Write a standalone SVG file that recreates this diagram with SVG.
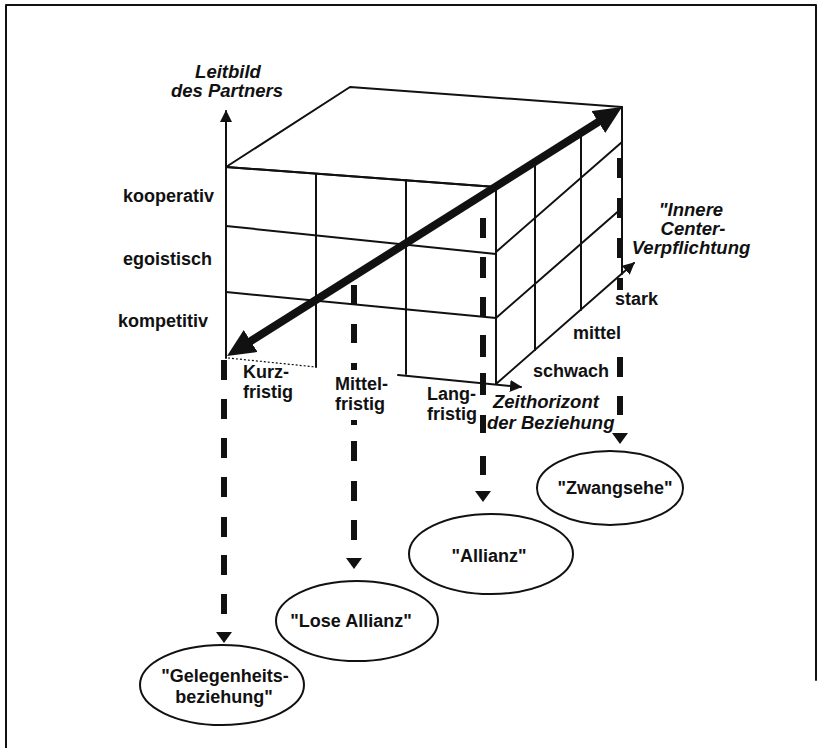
<svg xmlns="http://www.w3.org/2000/svg" width="822" height="748" viewBox="0 0 822 748">
<style>
.ln{fill:none;stroke:#111;stroke-width:2;stroke-linecap:round;stroke-linejoin:round}
.dot{fill:none;stroke:#111;stroke-width:1.2;stroke-dasharray:2 2}
.dash{fill:none;stroke:#111;stroke-width:6;stroke-linecap:butt}
.node ellipse{fill:#fff;stroke:#111;stroke-width:2}
text{font-family:"Liberation Sans",Arial,Helvetica,sans-serif;font-weight:bold;font-size:18px;fill:#111}
.it{font-style:italic;font-size:18.5px}
.mid{text-anchor:middle}
</style>
<defs>
<marker id="thin" viewBox="0 0 12 12" refX="11" refY="6" markerWidth="12" markerHeight="12" markerUnits="userSpaceOnUse" orient="auto"><path d="M0,0 L12,6 L0,12 Z" fill="#111"/></marker>
<marker id="big" viewBox="0 0 28 26" refX="2" refY="13" markerWidth="28" markerHeight="26" markerUnits="userSpaceOnUse" orient="auto-start-reverse"><path d="M0,0 L28,13 L0,26 Z" fill="#111"/></marker>
<path id="ah" d="M-8,0 L8,0 L0,11 Z" fill="#111"/>
</defs>
<rect width="822" height="748" fill="#fff"/>
<path class="ln" d="M6 748 V5 H816 V680"/>

<g id="cube">
<path class="ln" d="M226 167 L350 87 L622 107 L496 187 Z"/>
<path class="ln" d="M226 167 L496 187 M226 226 L496 254 M226 292 L496 318"/>
<path class="ln" d="M316 174 V367 M406 180 V374 M496 187 V384"/>
<path class="ln" d="M496 252 L622 142 M496 318 L622 208"/>
<path class="ln" d="M535 162 V350 M581 134 V310 M622 107 V274"/>
<path class="dot" d="M228 358 L316 367"/>
</g>

<g id="axes">
<path class="ln" d="M226 358 V111" marker-end="url(#thin)"/>
<path class="ln" d="M398 375 L521 387" marker-end="url(#thin)"/>
<path class="ln" d="M496 384 L634 263" marker-end="url(#thin)"/>
<text class="it mid" x="228" y="78">Leitbild</text>
<text class="it mid" x="227" y="97">des Partners</text>
<text class="it" x="493" y="408">Zeithorizont</text>
<text class="it" x="487" y="429">der Beziehung</text>
<text class="it mid" x="691" y="216">"Innere</text>
<text class="it mid" x="693" y="235">Center-</text>
<text class="it mid" x="691" y="254">Verpflichtung</text>
<text x="123" y="202">kooperativ</text>
<text x="123" y="265">egoistisch</text>
<text x="118" y="327">kompetitiv</text>
<text x="243" y="378">Kurz-</text>
<text x="243" y="398">fristig</text>
<text x="335" y="390">Mittel-</text>
<text x="335" y="410">fristig</text>
<text x="427" y="400">Lang-</text>
<text x="427" y="420">fristig</text>
<text x="533" y="377">schwach</text>
<text x="573" y="339">mittel</text>
<text x="615" y="305">stark</text>
</g>

<g id="connectors">
<path id="diagonal" fill="none" stroke="#111" stroke-width="8" d="M249 342.1 L600 120.9" marker-start="url(#big)" marker-end="url(#big)"/>
<path class="dash" d="M224 360V380M224 399V419M224 438V458M224 477V497M224 517V537M224 555V575M224 594V614"/>
<use href="#ah" x="224" y="632"/>
<path class="dash" d="M354 285V304M354 324V343M354 363V370M354 420V425M354 441V461M354 481V501M354 520V540"/>
<use href="#ah" x="354" y="558"/>
<path class="dash" d="M483 218V238M483 257V278M483 297V317M483 335V357M483 373V395M483 415V433M483 456V475"/>
<use href="#ah" x="483" y="491"/>
<path class="dash" d="M620 158V178M620 198V218M620 238V258M620 278V290M620 357V377M620 396V415"/>
<use href="#ah" x="620" y="433"/>
</g>

<g id="node-gelegenheit" class="node">
<ellipse cx="222" cy="685" rx="82" ry="40"/>
<text class="mid" x="225" y="682">"Gelegenheits-</text>
<text class="mid" x="224" y="703">beziehung"</text>
</g>
<g id="node-lose-allianz" class="node">
<ellipse cx="357" cy="621" rx="81" ry="40"/>
<text class="mid" x="351" y="627">"Lose Allianz"</text>
</g>
<g id="node-allianz" class="node">
<ellipse cx="491" cy="554" rx="82" ry="40"/>
<text class="mid" x="489" y="562">"Allianz"</text>
</g>
<g id="node-zwangsehe" class="node">
<ellipse cx="610" cy="488" rx="73" ry="37"/>
<text class="mid" x="615" y="494">"Zwangsehe"</text>
</g>
</svg>
